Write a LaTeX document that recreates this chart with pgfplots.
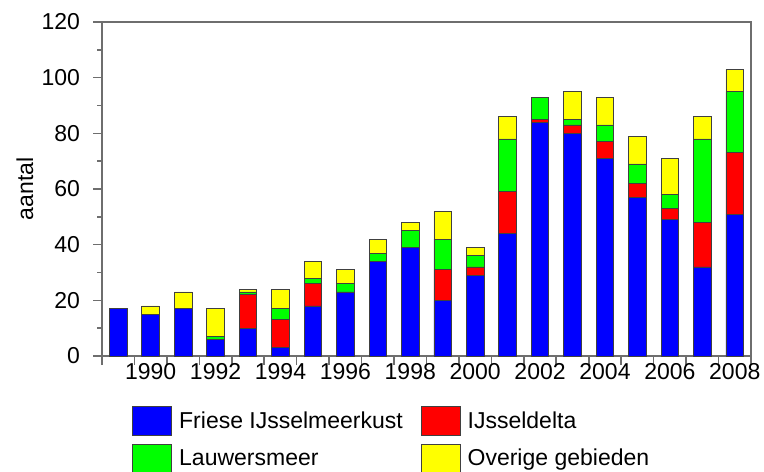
\documentclass[border=0pt]{standalone}
\usepackage{pgfplots}
\pgfplotsset{compat=1.18}
\usepackage{pgfplotstable}
\usepackage{fontspec}
\setmainfont{Liberation Sans}
\definecolor{cblue}{RGB}{0,0,255}
\definecolor{cred}{RGB}{255,0,0}
\definecolor{cgreen}{RGB}{0,255,0}
\definecolor{cyellow}{RGB}{255,255,0}
\definecolor{axgray}{RGB}{110,110,110}
\pgfplotstableread{
year blue red green yellow
1989 17 0 0 0
1990 15 0 0 3
1991 17 0 0 6
1992 6 0 1 10
1993 10 12 1 1
1994 3 10 4 7
1995 18 8 2 6
1996 23 0 3 5
1997 34 0 3 5
1998 39 0 6 3
1999 20 11 11 10
2000 29 3 4 3
2001 44 15 19 8
2002 84 1 8 0
2003 80 3 2 10
2004 71 6 6 10
2005 57 5 7 10
2006 49 4 5 13
2007 32 16 30 8
2008 51 22 22 8
}\datatable
\begin{document}
\begin{tikzpicture}
\useasboundingbox (-51pt,-57.5pt) rectangle (331pt,178pt);
\fill[axgray] (-0.6pt,166.4pt) rectangle (325.1pt,167.6pt);
\fill[axgray] (323.9pt,0pt) rectangle (325.1pt,167.6pt);
\begin{axis}[
  name=ax,
  at={(0,0)}, anchor=south west,
  scale only axis, width=324.5pt, height=167pt,
  xmin=1988.5, xmax=2008.5, ymin=0, ymax=120,
  ybar stacked, bar width=8.8pt,
  xtick={1988.5,1989.5,...,2008.5}, xticklabels={},
  extra x ticks={1990,1992,...,2008},
  extra x tick style={major tick length=0pt},
  ytick={0,20,...,120}, minor ytick={10,30,...,110},
  tick align=outside, tick pos=left,
  major tick length=4.5pt, minor tick length=2.5pt,
  axis line style={draw=axgray, line width=1pt},
  tick style={draw=axgray, line width=0.8pt},
  /pgf/number format/assume math mode=true,
  /pgf/number format/1000 sep={},
  tick label style={font=\fontsize{11.5}{13}\selectfont, text=black},
  yticklabel style={xshift=-3pt},
  ylabel={aantal},
  ylabel style={font=\fontsize{11.5}{13}\selectfont, at={(axis description cs:-0.1187,0.5)}, anchor=center},
  every axis plot/.append style={draw=black!75, line width=0.4pt},
  legend columns=2,
  legend cell align=left,
  legend image code/.code={\draw[#1] (0pt,-7.25pt) rectangle (19.5pt,7.25pt);},
  legend style={draw=none, inner sep=0pt, font=\fontsize{11.5}{13}\selectfont,
    at={(axis description cs:0.0462,-0.1497)}, anchor=north west,
    /tikz/every odd column/.append style={column sep=1.5pt},
    /tikz/every even column/.append style={column sep=7pt},
    row sep=4pt},
]
\addplot[fill=cblue] table[x=year,y=blue] {\datatable};
\addplot[fill=cred] table[x=year,y=red] {\datatable};
\addplot[fill=cgreen] table[x=year,y=green] {\datatable};
\addplot[fill=cyellow] table[x=year,y=yellow] {\datatable};
\legend{Friese IJsselmeerkust, IJsseldelta, Lauwersmeer, Overige gebieden}
\end{axis}
\end{tikzpicture}
\end{document}
